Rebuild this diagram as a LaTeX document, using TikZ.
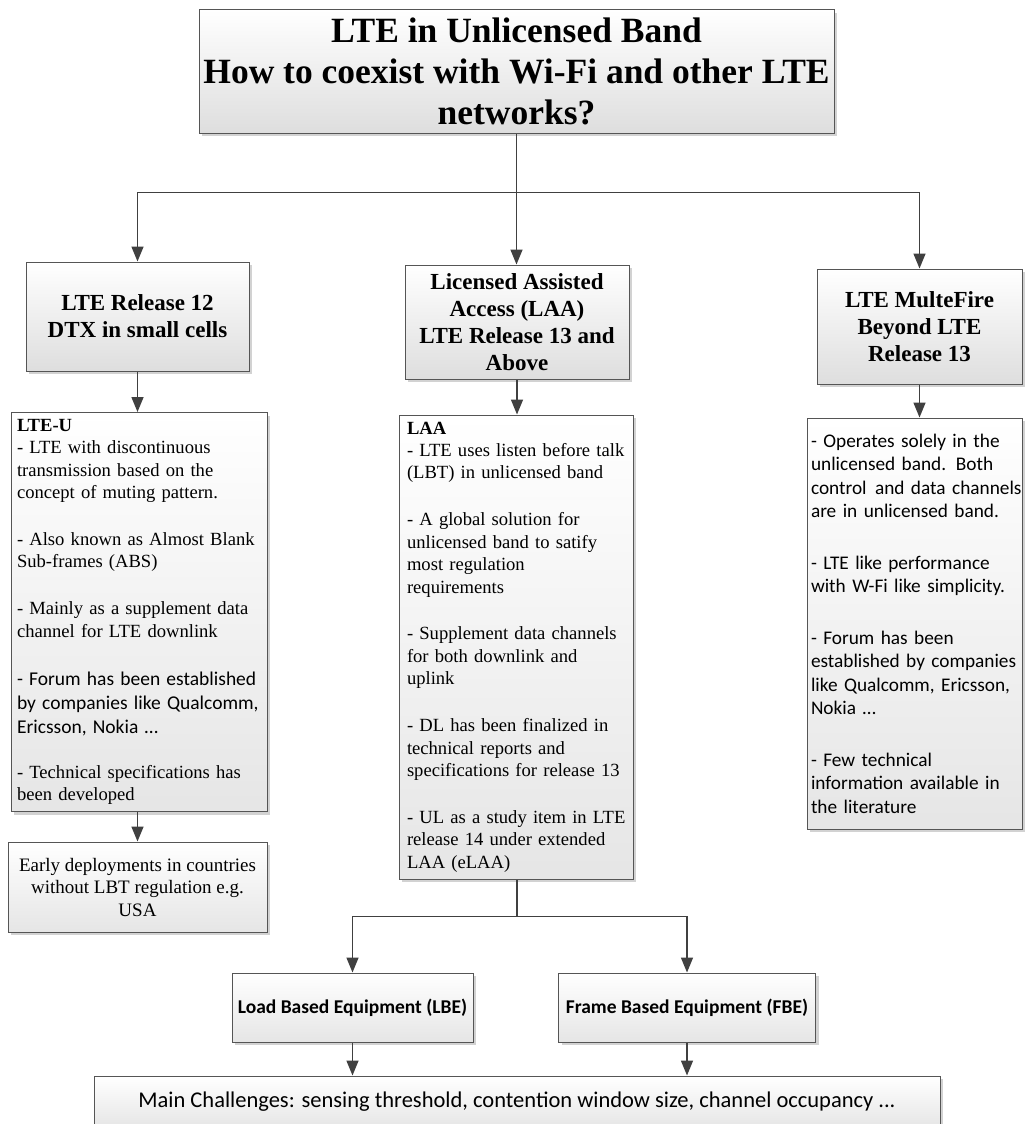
\documentclass[tikz,border=0pt]{standalone}
\usepackage{fontspec}
\setmainfont{Liberation Serif}
\newfontfamily\calibri{Carlito}
\usepackage{tikz}
\usetikzlibrary{positioning,arrows.meta,shadows}
\definecolor{boxline}{RGB}{85,85,85}
\definecolor{linkgray}{RGB}{64,64,64}
\newcommand{\bulletgap}{\par\vspace{24.5pt}}
\newcommand{\boxmargin}[1]{\leftskip=#1\rightskip=-30pt plus 1fil\relax}

\begin{document}
\begin{tikzpicture}[
            x=1pt, y=-1pt,
            headbox/.style={draw=boxline, line width=1pt, inner sep=0pt, top color=white, bottom color=black!13,
                drop shadow={shadow xshift=3pt, shadow yshift=-3pt, fill=black!25, opacity=0.7},
                align=center, font=\fontsize{23}{27}\selectfont\bfseries},
            textbox/.style={draw=boxline, line width=1pt, inner sep=0pt, top color=white, bottom color=black!10,
                drop shadow={shadow xshift=3pt, shadow yshift=-3pt, fill=black!25, opacity=0.7},
                align=left, font=\fontsize{18.6}{22.4}\selectfont},
            calibox/.style={textbox, align=center, font=\calibri\fontsize{19.5}{23}\selectfont\bfseries},
            link/.style={draw=linkgray, line width=1.5pt, -{Triangle[length=15pt, width=12pt]}},
        ]
            \clip (0,0) rectangle (1025,1124);
            \fill[white] (0,0) rectangle (1025,1124);

            % question on top
            \node[headbox, minimum width=635pt, minimum height=123pt, font=\fontsize{35.5}{41}\selectfont\bfseries] (title) at (516.5,71.5)
                {LTE in Unlicensed Band\\How to coexist with Wi-Fi and other LTE\\networks?};

            % three approaches
            \node[headbox, minimum width=223pt, minimum height=109pt] (rel12) at (137.5,316.5) {LTE Release 12\\DTX in small cells};
            \node[headbox, minimum width=224pt, minimum height=114pt] (laa) at (517,322) {Licensed Assisted\\Access (LAA)\\LTE Release 13 and\\Above};
            \node[headbox, minimum width=205pt, minimum height=115pt] (multefire) at (919.5,326.5) {LTE MulteFire\\Beyond LTE\\Release 13};

            % details of each approach
            \node[textbox, minimum width=256pt, minimum height=399pt, text width=256pt] (lteu) at (139,612)
                {\boxmargin{6pt}\textbf{LTE-U}\\- LTE with discontinuous\\transmission based on the\\concept of muting pattern.\bulletgap
                 - Also known as Almost Blank\\Sub-frames (ABS)\bulletgap
                 - Mainly as a supplement data\\channel for LTE downlink\bulletgap
                 {\calibri\fontsize{19.5}{23.8}\selectfont - Forum has been established\\by companies like Qualcomm,\\Ericsson, Nokia …\par}\vspace{23pt}
                 - Technical specifications has\\been developed\par};
            \node[textbox, minimum width=234pt, minimum height=464pt, text width=234pt] (laabody) at (516,647)
                {\boxmargin{8pt}\textbf{LAA}\\- LTE uses listen before talk\\(LBT) in unlicensed band\bulletgap
                 - A global solution for\\unlicensed band to satify\\most regulation\\requirements\bulletgap
                 - Supplement data channels\\for both downlink and\\uplink\bulletgap
                 - DL has been finalized in\\technical reports and\\specifications for release 13\bulletgap
                 - UL as a study item in LTE\\release 14 under extended\\LAA (eLAA)\par};
            \node[textbox, minimum width=215pt, minimum height=411pt, text width=215pt, font=\calibri\fontsize{19.3}{23.5}\selectfont] (mfbody) at (914.5,623.5)
                {\boxmargin{4pt}- Operates solely in the\\unlicensed band. Both\\control\hspace{2pt} and data channels\\are in unlicensed band.\par\vspace{28pt}
                 - LTE like performance\\with W-Fi like simplicity.\par\vspace{28pt}
                 - Forum has been\\established by companies\\like Qualcomm, Ericsson,\\Nokia …\par\vspace{28pt}
                 - Few technical\\information available in\\the literature\par};
            \node[textbox, minimum width=259pt, minimum height=90pt, align=center, font=\fontsize{19}{22.5}\selectfont] (early) at (137.5,887)
                {Early deployments in countries\\without LBT regulation e.g.\\USA};

            % channel access of LAA
            \node[calibox, minimum width=241pt, minimum height=69pt] (lbe) at (352.5,1007.5) {Load Based Equipment (LBE)};
            \node[calibox, minimum width=257pt, minimum height=69pt] (fbe) at (687,1007.5) {Frame Based Equipment (FBE)};
            \node[textbox, minimum width=846pt, minimum height=52pt, align=center, font=\calibri\fontsize{22.5}{26}\selectfont] (challenges) at (517,1102)
                {Main Challenges: sensing threshold, contention window size, channel occupancy ...};

            % connectors
            \draw[link, -] (title.south) -- ++(0,59) coordinate (hub);
            \draw[link] (hub) -| (rel12.north);
            \draw[link] (hub) -- (hub |- laa.north);
            \draw[link] (hub) -| (multefire.north);
            \draw[link] (rel12.south) -- (rel12.south |- lteu.north);
            \draw[link] (laa.south) -- (laa.south |- laabody.north);
            \draw[link] (multefire.south) -- (multefire.south |- mfbody.north);
            \draw[link] (lteu.south -| rel12.south) -- (rel12.south |- early.north);
            \draw[link, -] (laabody.south -| laa.south) -- ++(0,37) coordinate (fork);
            \draw[link] (fork) -| (lbe.north);
            \draw[link] (fork) -| (fbe.north);
            \draw[link] (lbe.south) -- (lbe.south |- challenges.north);
            \draw[link] (fbe.south) -- (fbe.south |- challenges.north);
        \end{tikzpicture}
\end{document}
